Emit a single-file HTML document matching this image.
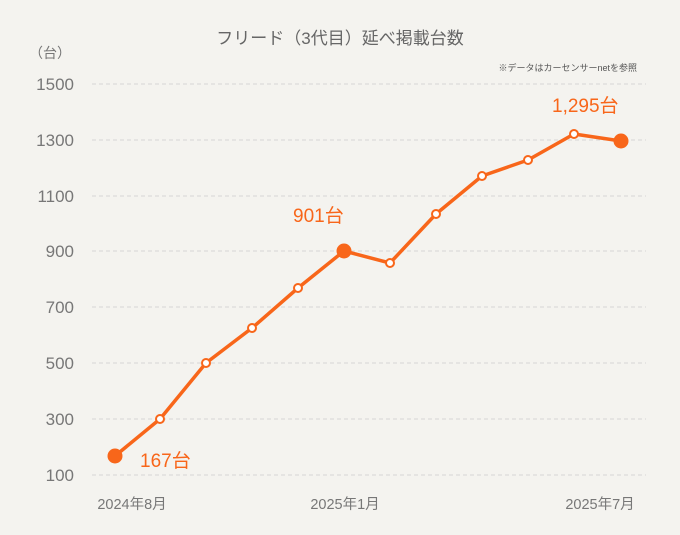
<!DOCTYPE html>
<html><head><meta charset="utf-8"><style>
html,body{margin:0;padding:0;background:#f4f3ef;}
svg{display:block;font-family:"Liberation Sans","Noto Sans CJK JP",sans-serif;}
</style></head><body>
<svg width="680" height="535" viewBox="0 0 680 535">
<rect x="0" y="0" width="680" height="535" fill="#f4f3ef"/>
<text x="340" y="44" text-anchor="middle" font-size="17" fill="#666">フリード（3代目）延べ掲載台数</text>
<text x="50" y="58" text-anchor="middle" font-size="14" fill="#777">（台）</text>
<text x="637" y="71" text-anchor="end" font-size="9" fill="#555">※データはカーセンサーnetを参照</text>
<g stroke="#d6d6d6" stroke-width="1" stroke-dasharray="4,3">
<line x1="92" x2="646" y1="84" y2="84"/><line x1="92" x2="646" y1="140" y2="140"/>
<line x1="92" x2="646" y1="196" y2="196"/><line x1="92" x2="646" y1="251" y2="251"/>
<line x1="92" x2="646" y1="307" y2="307"/><line x1="92" x2="646" y1="363" y2="363"/>
<line x1="92" x2="646" y1="419" y2="419"/><line x1="92" x2="646" y1="475" y2="475"/>
</g>
<g font-size="17" fill="#777" text-anchor="end">
<text x="74" y="90">1500</text><text x="74" y="146">1300</text><text x="74" y="202">1100</text>
<text x="74" y="257">900</text><text x="74" y="313">700</text><text x="74" y="369">500</text>
<text x="74" y="425">300</text><text x="74" y="481">100</text>
</g>
<g font-size="14.5" fill="#777" text-anchor="middle">
<text x="132" y="509">2024年8月</text><text x="345" y="509">2025年1月</text><text x="600" y="509">2025年7月</text>
</g>
<polyline fill="none" stroke="#f8661a" stroke-width="3.5" stroke-linejoin="round"
points="115,456 160,419 206,363 252,328 298,288 344,251 390,263 436,214 482,176 528,160 574,134 621,141"/>
<g fill="#fff" stroke="#f8661a" stroke-width="2">
<circle cx="160" cy="419" r="4"/><circle cx="206" cy="363" r="4"/><circle cx="252" cy="328" r="4"/>
<circle cx="298" cy="288" r="4"/><circle cx="390" cy="263" r="4"/><circle cx="436" cy="214" r="4"/>
<circle cx="482" cy="176" r="4"/><circle cx="528" cy="160" r="4"/><circle cx="574" cy="134" r="4"/>
</g>
<g fill="#f8661a">
<circle cx="115" cy="456" r="7.5"/><circle cx="344" cy="251" r="7.5"/><circle cx="621" cy="141" r="7.5"/>
</g>
<g font-size="19" fill="#f8661a">
<text x="140" y="467">167台</text>
<text x="293" y="222">901台</text>
<text x="552" y="112">1,295台</text>
</g>
</svg>
</body></html>
